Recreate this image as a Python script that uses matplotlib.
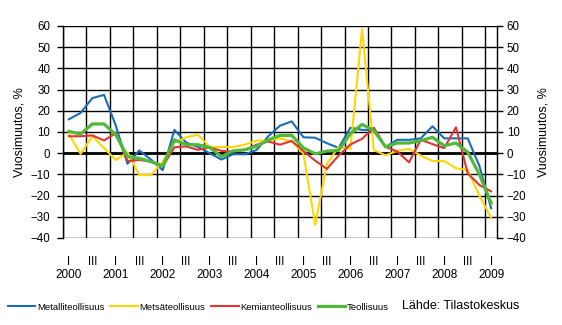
import matplotlib
matplotlib.use("Agg")
import matplotlib.pyplot as plt
import numpy as np

plt.rcParams['font.family'] = ['Liberation Sans', 'DejaVu Sans']

# Quarterly year-on-year change, 2000 Q1 - 2009 Q1
years = [str(y) for y in range(2000, 2010)]
quarter_labels = ["I", "", "III", ""]

metalli = [16, 19, 26, 27.5, 13, -5, 1.3, -3, -8, 11,
           5, 3, 0, -3, -0.5, -0.5, 1.5, 8, 13, 15,
           7.5, 7.3, 4.7, 2.5, 12, 11, 11, 3, 6.3, 6.3,
           7, 12.7, 7, 7, 7, -6, -26]
metsa = [9, -0.3, 8, 2.4, -3.2, 0.5, -10.3, -10.3, -4, 5,
         7.5, 8.7, 2.9, 2.9, 2.9, 4, 5.9, 5.9, 7, 5.5,
         -0.3, -33.8, -5, 3, 2, 58.5, 1.5, -1, 1.1, 2,
         -1.1, -3.7, -3.7, -7.1, -7.9, -20, -30.5]
kemia = [8, 8, 8.4, 6, 9.5, -3.7, -3.2, -4, -6.3, 2.8,
         3.2, 1.6, 2.7, 1.1, 0.8, 1.6, 4, 5.5, 4, 5.8,
         1, -3.5, -7.4, -1.1, 4.1, 6.8, 12, 3, 0.8, -4.3,
         6.3, 4.3, 2.4, 12.2, -9.5, -15, -18]
teollisuus = [10.3, 9, 13.8, 13.8, 8.7, -1.6, -2.4, -4, -6, 6.3,
              4, 4, 2.7, -1.6, 1.1, 1.6, 3.2, 6.3, 8.4, 8.4,
              2.5, -0.3, 1, 1.3, 9.2, 13.6, 10.7, 3, 4.8, 4.8,
              5.9, 7.5, 3.5, 4.8, 0.5, -10, -23.5]

series_names = ["Metalliteollisuus", "Metsäteollisuus", "Kemianteollisuus", "Teollisuus"]
series_values = [metalli, metsa, kemia, teollisuus]
series_colors = ["#1a6cb6", "#ffd700", "#e23434", "#4fba3a"]
series_widths = [1.5, 1.5, 1.5, 2.3]

n = len(metalli)
x = np.arange(n)
yticks = list(range(-40, 61, 10))

fig = plt.figure(figsize=(5.62, 3.25), dpi=100)
ax = fig.add_axes([63 / 562, 1 - 238 / 325, 434 / 562, 212 / 325])

ax.set_xlim(-0.5, n - 0.5)
ax.set_ylim(-40, 60)

# grid: horizontal every 10, vertical every half year
ax.hlines(yticks, -0.5, n - 0.5, colors="black", linewidths=1.0, zorder=1)
ax.vlines(np.arange(-0.5, n, 2), -40, 60, colors="black", linewidths=1.0, zorder=1)
ax.axhline(0, color="black", lw=2.0, zorder=2)

lines = []
for name, vals, col, lw in zip(series_names, series_values, series_colors, series_widths):
    ln, = ax.plot(x, vals, color=col, lw=lw, label=name, zorder=3)
    lines.append(ln)

ax.set_xlim(-0.5, n - 0.5)
ax.set_ylim(-40, 60)

for s in ["top", "bottom", "right"]:
    ax.spines[s].set_visible(False)
ax.spines["left"].set_linewidth(1.0)

ax.set_yticks(yticks)
ax.tick_params(axis="y", which="major", direction="out", length=4, width=1.0,
               labelsize=8.3, pad=5)

# quarter labels
ax.set_xticks(x)
ax.set_xticklabels([quarter_labels[i % 4] for i in x], fontsize=8.3)
ax.tick_params(axis="x", which="both", length=0, pad=13)

# year labels under the first quarter of each year
for i, yr in zip(range(0, n, 4), years):
    ax.text(i, -0.175, yr, transform=ax.get_xaxis_transform(), ha="center",
            va="center", fontsize=8.5)

ax.set_ylabel("Vuosimuutos, %", fontsize=9, labelpad=4)

# mirrored value axis on the right
ax2 = ax.twinx()
ax2.set_ylim(-40, 60)
ax2.set_yticks(yticks)
for s in ["top", "bottom", "left"]:
    ax2.spines[s].set_visible(False)
ax2.spines["right"].set_linewidth(1.0)
ax2.tick_params(axis="y", direction="out", length=4, width=1.0, labelsize=8.3, pad=3)
ax2.set_ylabel("Vuosimuutos, %", fontsize=9, labelpad=8, rotation=90)

fig.legend(handles=lines, loc="center left", bbox_to_anchor=(8 / 562, 1 - 307 / 325),
           ncol=4, frameon=False, fontsize=6.8, handlelength=2.9, handletextpad=0.2,
           columnspacing=0.6, borderaxespad=0, borderpad=0)
fig.text(402 / 562, 1 - 306 / 325, "Lähde: Tilastokeskus", fontsize=9,
         ha="left", va="center")

fig.savefig("out.png", dpi=100)
